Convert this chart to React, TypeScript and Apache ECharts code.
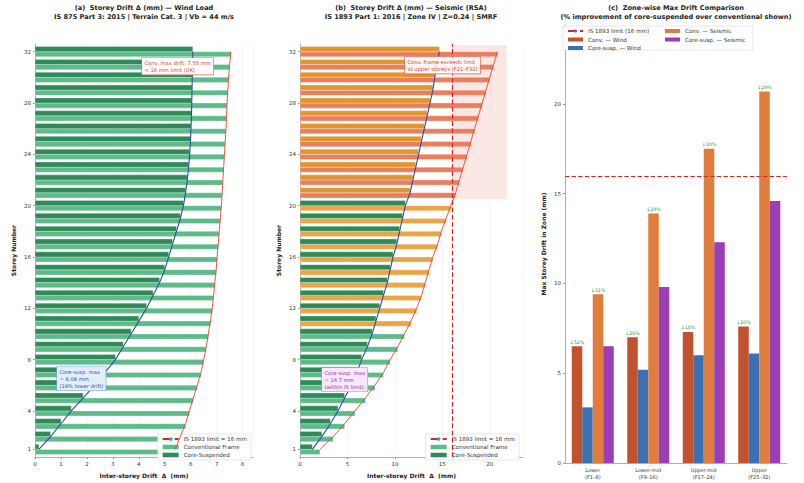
import React, { useEffect, useRef } from 'react';
import * as echarts from 'echarts';

// ---------------- DATA ----------------
const storeys = [1, 2, 3, 4, 5, 6, 7, 8, 9, 10, 11, 12, 13, 14, 15, 16, 17, 18, 19, 20, 21, 22, 23, 24, 25, 26, 27, 28, 29, 30, 31, 32];
const storeyTicks = [1, 4, 8, 12, 16, 20, 24, 28, 32];

const windConv = [5.4, 5.6, 5.8, 5.95, 6.1, 6.25, 6.4, 6.5, 6.6, 6.68, 6.76, 6.83, 6.88, 6.93, 6.98, 7.02, 7.06, 7.1, 7.14, 7.18, 7.21, 7.24, 7.27, 7.3, 7.33, 7.36, 7.38, 7.4, 7.43, 7.46, 7.5, 7.55];
const windCore = [0.15, 0.6, 1.0, 1.4, 1.85, 2.3, 2.7, 3.1, 3.4, 3.7, 4.0, 4.3, 4.55, 4.8, 5.0, 5.15, 5.3, 5.45, 5.6, 5.72, 5.8, 5.87, 5.92, 5.96, 5.99, 6.01, 6.03, 6.04, 6.05, 6.06, 6.07, 6.08];
const seisConv = [2.1, 3.5, 4.7, 5.8, 6.9, 7.9, 8.8, 9.5, 10.3, 11.0, 11.7, 12.3, 12.8, 13.2, 13.6, 14.0, 14.5, 14.9, 15.4, 15.9, 16.4, 16.8, 17.2, 17.6, 18.0, 18.4, 18.8, 19.2, 19.6, 20.0, 20.4, 20.8];
const seisCore = [1.3, 2.3, 3.2, 4.0, 4.7, 5.4, 6.0, 6.5, 7.1, 7.6, 8.0, 8.4, 8.8, 9.2, 9.5, 9.8, 10.2, 10.5, 10.8, 11.1, 11.6, 11.9, 12.2, 12.5, 12.8, 13.1, 13.4, 13.7, 14.0, 14.2, 14.4, 14.7];

const driftLimit = 16;

const zones = ['Lower\n(F1–8)', 'Lower-mid\n(F9–16)', 'Upper-mid\n(F17–24)', 'Upper\n(F25–32)'];
const zoneConvWind = [6.5, 7.0, 7.3, 7.6];
const zoneCoreWind = [3.1, 5.2, 6.0, 6.1];
const zoneConvSeis = [9.4, 13.9, 17.5, 20.7];
const zoneCoreSeis = [6.5, 9.8, 12.3, 14.6];

// ---------------- STYLE ----------------
const FONT = 'DejaVu Sans';
const convPalette = ['#5dbb8a', '#eaa548', '#ea7e5e'];
const corePalette = ['#2e8b57', '#e0952f', '#d9534f'];
const lvl = (v: number) => (v > driftLimit ? 2 : v > 0.7 * driftLimit ? 1 : 0);

const LIMIT_NAME = 'IS 1893 limit = 16 mm';
const LIMIT_NAME_C = 'IS 1893 limit (16 mm)';

function barSeries(name: string, vals: number[], offset: number, palette: string[], idx: number) {
  return {
    type: 'custom',
    name,
    xAxisIndex: idx,
    yAxisIndex: idx,
    data: vals.map((v, i) => [v, storeys[i], lvl(v)]),
    encode: { x: 0, y: 1 },
    z: 2,
    renderItem: (_p: any, api: any) => {
      const v = api.value(0);
      const s = api.value(1);
      const l = api.value(2);
      const a = api.coord([0, s + offset + 0.2]);
      const b = api.coord([v, s + offset - 0.2]);
      return {
        type: 'rect',
        shape: { x: a[0], y: a[1], width: b[0] - a[0], height: b[1] - a[1] },
        style: { fill: palette[l], stroke: '#ffffff', lineWidth: 0.3 },
      };
    },
  };
}

function profileLine(vals: number[], color: string, idx: number, width: number) {
  return {
    type: 'line',
    xAxisIndex: idx,
    yAxisIndex: idx,
    data: vals.map((v, i) => [v, storeys[i]]),
    symbol: 'none',
    lineStyle: { color, width },
    z: 4,
    silent: true,
  };
}

const axisLabelStyle = { fontSize: 5.5, color: '#333', fontFamily: FONT };
const axisNameStyle = { fontSize: 6, fontWeight: 'bold' as const, color: '#222', fontFamily: FONT };
const axisLineStyle = { show: true, lineStyle: { color: '#999', width: 0.8 } };

function storeyYAxis(idx: number) {
  return {
    type: 'value',
    gridIndex: idx,
    min: 0.4,
    max: 32.6,
    name: 'Storey Number',
    nameLocation: 'middle',
    nameGap: 19,
    nameTextStyle: axisNameStyle,
    axisLine: axisLineStyle,
    axisTick: { show: true, length: 2, customValues: storeyTicks, lineStyle: { color: '#999' } },
    axisLabel: { ...axisLabelStyle, customValues: storeyTicks, margin: 4 },
    splitLine: { show: false },
  };
}

function driftXAxis(idx: number, max: number, interval: number) {
  return {
    type: 'value',
    gridIndex: idx,
    min: 0,
    max,
    interval,
    name: 'Inter-storey Drift  Δ  (mm)',
    nameLocation: 'middle',
    nameGap: 13,
    nameTextStyle: axisNameStyle,
    axisLine: axisLineStyle,
    axisTick: { show: true, length: 2, lineStyle: { color: '#999' } },
    axisLabel: { ...axisLabelStyle, margin: 4, showMaxLabel: false },
    splitLine: { show: true, lineStyle: { color: '#eeeeee', width: 0.5 } },
  };
}

const legendText = { fontSize: 5.6, color: '#333', fontFamily: FONT };

function panelLegend(right: number) {
  return {
    orient: 'vertical',
    right,
    bottom: 23,
    itemWidth: 16,
    itemHeight: 4.5,
    itemGap: 2,
    padding: [2, 4],
    backgroundColor: 'rgba(255,255,255,0.92)',
    borderColor: '#cccccc',
    borderWidth: 0.5,
    textStyle: legendText,
    data: [
      { name: LIMIT_NAME },
      { name: 'Conventional Frame', icon: 'rect', itemStyle: { color: convPalette[0] } },
      { name: 'Core-Suspended', icon: 'rect', itemStyle: { color: corePalette[0] } },
    ],
  };
}

function titleText(x: number, text: string) {
  return {
    type: 'text',
    x,
    y: 3,
    style: {
      text,
      textAlign: 'center',
      fill: '#222',
      font: `bold 6.6px "${FONT}"`,
      lineHeight: 9,
    },
    z: 20,
  };
}

function annot(x: number, y: number, text: string, color: string, bg: string, border: string) {
  return {
    type: 'text',
    x,
    y,
    z: 30,
    style: {
      text,
      fill: color,
      font: `5.2px "${FONT}"`,
      lineHeight: 6.8,
      backgroundColor: bg,
      borderColor: border,
      borderWidth: 0.6,
      padding: [1.5, 2.5],
    },
  };
}

const pct = (c: number[], s: number[], i: number) => `↓${Math.round(((c[i] - s[i]) / c[i]) * 100)}%`;

export default function App() {
  const ref = useRef<HTMLDivElement>(null);
  useEffect(() => {
    if (!ref.current) return;
    const chart = echarts.init(ref.current, undefined, { renderer: 'svg' });
    const option: any = {
      animation: false,
      backgroundColor: '#ffffff',
      textStyle: { fontFamily: FONT },
      grid: [
        { left: 35, top: 44, width: 218, height: 416 },
        { left: 300, top: 44, width: 223, height: 416 },
        { left: 565, top: 25, width: 222, height: 438 },
      ],
      xAxis: [
        driftXAxis(0, 8.4, 1),
        driftXAxis(1, 23.5, 5),
        {
          type: 'category',
          gridIndex: 2,
          data: zones,
          axisLine: axisLineStyle,
          axisTick: { show: false },
          axisLabel: { ...axisLabelStyle, fontSize: 5, lineHeight: 6.5, margin: 4 },
        },
      ],
      yAxis: [
        storeyYAxis(0),
        storeyYAxis(1),
        {
          type: 'value',
          gridIndex: 2,
          min: 0,
          max: 24.4,
          interval: 5,
          name: 'Max Storey Drift in Zone (mm)',
          nameLocation: 'middle',
          nameGap: 19,
          nameTextStyle: axisNameStyle,
          axisLine: axisLineStyle,
          axisTick: { show: true, length: 2, lineStyle: { color: '#999' } },
          axisLabel: { ...axisLabelStyle, margin: 4, showMaxLabel: false },
          splitLine: { show: false },
        },
      ],
      legend: [
        panelLegend(804 - 251),
        panelLegend(804 - 519),
        {
          orient: 'vertical',
          left: 567,
          top: 28,
          itemWidth: 15,
          itemHeight: 4,
          itemGap: 2.5,
          padding: 0,
          textStyle: legendText,
          data: [
            { name: LIMIT_NAME_C },
            { name: 'Conv. — Wind', icon: 'rect' },
            { name: 'Core-susp. — Wind', icon: 'rect' },
          ],
          z: 10,
        },
        {
          orient: 'vertical',
          left: 665,
          top: 28,
          itemWidth: 15,
          itemHeight: 4,
          itemGap: 2.5,
          padding: 0,
          textStyle: legendText,
          data: [
            { name: 'Conv. — Seismic', icon: 'rect' },
            { name: 'Core-susp. — Seismic', icon: 'rect' },
          ],
          z: 10,
        },
      ],
      graphic: [
        titleText(144, '(a)  Storey Drift Δ (mm) — Wind Load\nIS 875 Part 3: 2015 | Terrain Cat. 3 | Vb = 44 m/s'),
        titleText(411, '(b)  Storey Drift Δ (mm) — Seismic (RSA)\nIS 1893 Part 1: 2016 | Zone IV | Z=0.24 | SMRF'),
        titleText(676, '(c)  Zone-wise Max Drift Comparison\n(% improvement of core-suspended over conventional shown)'),
        {
          type: 'rect',
          z: 5,
          shape: { x: 563, y: 26, width: 190, height: 24 },
          style: { fill: 'rgba(255,255,255,0.95)', stroke: '#cccccc', lineWidth: 0.5 },
        },
        annot(142, 58, 'Conv. max drift: 7.55 mm\n< 16 mm limit (OK)', '#d9382a', '#ffffff', '#e0604a'),
        annot(405, 57, 'Conv. frame exceeds limit\nat upper storeys (F21–F32)', '#d9382a', 'rgba(255,255,255,0.9)', '#e0604a'),
        annot(57, 367, 'Core-susp. max\n= 6.08 mm\n(19% lower drift)', '#2357a8', '#e4eefb', '#6f9fdc'),
        annot(322, 368, 'Core-susp. max\n= 14.7 mm\n(within IS limit)', '#a02db3', '#f7e9f9', '#c679d6'),
      ],
      series: [
        // panel (a)
        barSeries('Conventional Frame', windConv, -0.2, convPalette, 0),
        barSeries('Core-Suspended', windCore, 0.2, corePalette, 0),
        profileLine(windConv, '#e8452c', 0, 0.9),
        profileLine(windCore, '#2b4f9e', 0, 1.1),
        {
          type: 'line',
          name: LIMIT_NAME,
          xAxisIndex: 0,
          yAxisIndex: 0,
          data: [],
          symbol: 'none',
          lineStyle: { color: '#d62728', type: 'dashed', width: 1.2 },
        },
        // panel (b)
        barSeries('Conventional Frame', seisConv, -0.2, convPalette, 1),
        barSeries('Core-Suspended', seisCore, 0.2, corePalette, 1),
        profileLine(seisConv, '#e8452c', 1, 0.9),
        profileLine(seisCore, '#2b4f9e', 1, 1.1),
        {
          type: 'line',
          name: LIMIT_NAME,
          xAxisIndex: 1,
          yAxisIndex: 1,
          data: [],
          symbol: 'none',
          lineStyle: { color: '#d62728', type: 'dashed', width: 1.2 },
          markLine: {
            silent: true,
            symbol: 'none',
            label: { show: false },
            lineStyle: { color: '#d62728', type: 'dashed', width: 1.2 },
            data: [{ xAxis: driftLimit }],
          },
          markArea: {
            silent: true,
            itemStyle: { color: 'rgba(232,120,95,0.17)' },
            data: [[{ xAxis: driftLimit, yAxis: 20.5 }, { xAxis: 21.8, yAxis: 32.5 }]],
          },
          z: 1,
        },
        // panel (c)
        {
          type: 'line',
          name: LIMIT_NAME_C,
          xAxisIndex: 2,
          yAxisIndex: 2,
          data: [],
          symbol: 'none',
          lineStyle: { color: '#d62728', type: 'dashed', width: 1.1 },
          markLine: {
            silent: true,
            symbol: 'none',
            label: { show: false },
            lineStyle: { color: '#d62728', type: 'dashed', width: 1.1 },
            data: [{ yAxis: driftLimit }],
          },
        },
        {
          type: 'bar',
          name: 'Conv. — Wind',
          xAxisIndex: 2,
          yAxisIndex: 2,
          data: zoneConvWind,
          barWidth: 10.5,
          barGap: '0%',
          itemStyle: { color: '#c4512d' },
          label: {
            show: true,
            position: 'top',
            distance: 1.5,
            fontSize: 4.8,
            color: '#2e9a3e',
            fontFamily: FONT,
            formatter: (p: any) => pct(zoneConvWind, zoneCoreWind, p.dataIndex),
          },
        },
        {
          type: 'bar',
          name: 'Core-susp. — Wind',
          xAxisIndex: 2,
          yAxisIndex: 2,
          data: zoneCoreWind,
          barWidth: 10.5,
          barGap: '0%',
          itemStyle: { color: '#3b71b3' },
        },
        {
          type: 'bar',
          name: 'Conv. — Seismic',
          xAxisIndex: 2,
          yAxisIndex: 2,
          data: zoneConvSeis,
          barWidth: 10.5,
          barGap: '0%',
          itemStyle: { color: '#e07d3c' },
          label: {
            show: true,
            position: 'top',
            distance: 1.5,
            fontSize: 4.8,
            color: '#2e9a3e',
            fontFamily: FONT,
            formatter: (p: any) => pct(zoneConvSeis, zoneCoreSeis, p.dataIndex),
          },
        },
        {
          type: 'bar',
          name: 'Core-susp. — Seismic',
          xAxisIndex: 2,
          yAxisIndex: 2,
          data: zoneCoreSeis,
          barWidth: 10.5,
          barGap: '0%',
          itemStyle: { color: '#9b3db6' },
        },
      ],
    };
    chart.setOption(option);
    return () => chart.dispose();
  }, []);
  return <div ref={ref} style={{ width: 804, height: 483, position: 'absolute', left: 0, top: 0 }} />;
}
